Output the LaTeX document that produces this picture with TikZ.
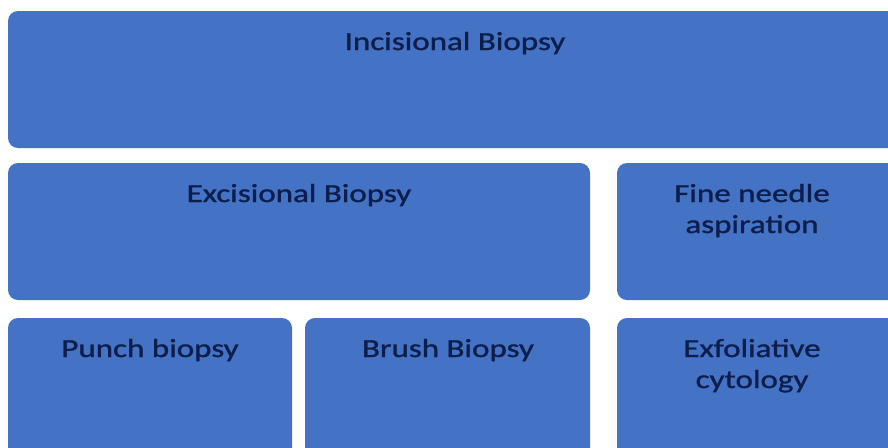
\documentclass[tikz,border=0pt]{standalone}
\usepackage{fontspec}
\setmainfont{Carlito}[FakeStretch=1.27,FakeBold=1.2]
\definecolor{boxblue}{HTML}{4472C4}
\definecolor{txtnavy}{HTML}{0E1E4C}
\begin{document}
\begin{tikzpicture}[x=1pt,y=-1pt,
  blk/.style={fill=boxblue,draw=none,rounded corners=10pt},
  lbl/.style={text=txtnavy,font=\fontsize{26}{31}\selectfont,align=center,anchor=base,inner sep=0pt}]
\useasboundingbox (0,0) rectangle (888,447);
\fill[white] (0,0) rectangle (888,447);
\path[blk] (8,11) rectangle (900,148);
\path[blk] (8,163) rectangle (590,300);
\path[blk] (617,163) rectangle (900,300);
\path[blk] (8,318) rectangle (292,460);
\path[blk] (305,318) rectangle (590,460);
\path[blk] (617,318) rectangle (900,460);
\node[lbl] (inc) at (455,50) {Incisional Biopsy};
\node[lbl] (exc) at (299,202) {Excisional Biopsy};
\node[lbl] (fna) at (752,233) {Fine needle\\aspiration};
\node[lbl] (pun) at (150,357) {Punch biopsy};
\node[lbl] (bru) at (448,357) {Brush Biopsy};
\node[lbl] (exf) at (752,388) {Exfoliative\\cytology};
\end{tikzpicture}
\end{document}
